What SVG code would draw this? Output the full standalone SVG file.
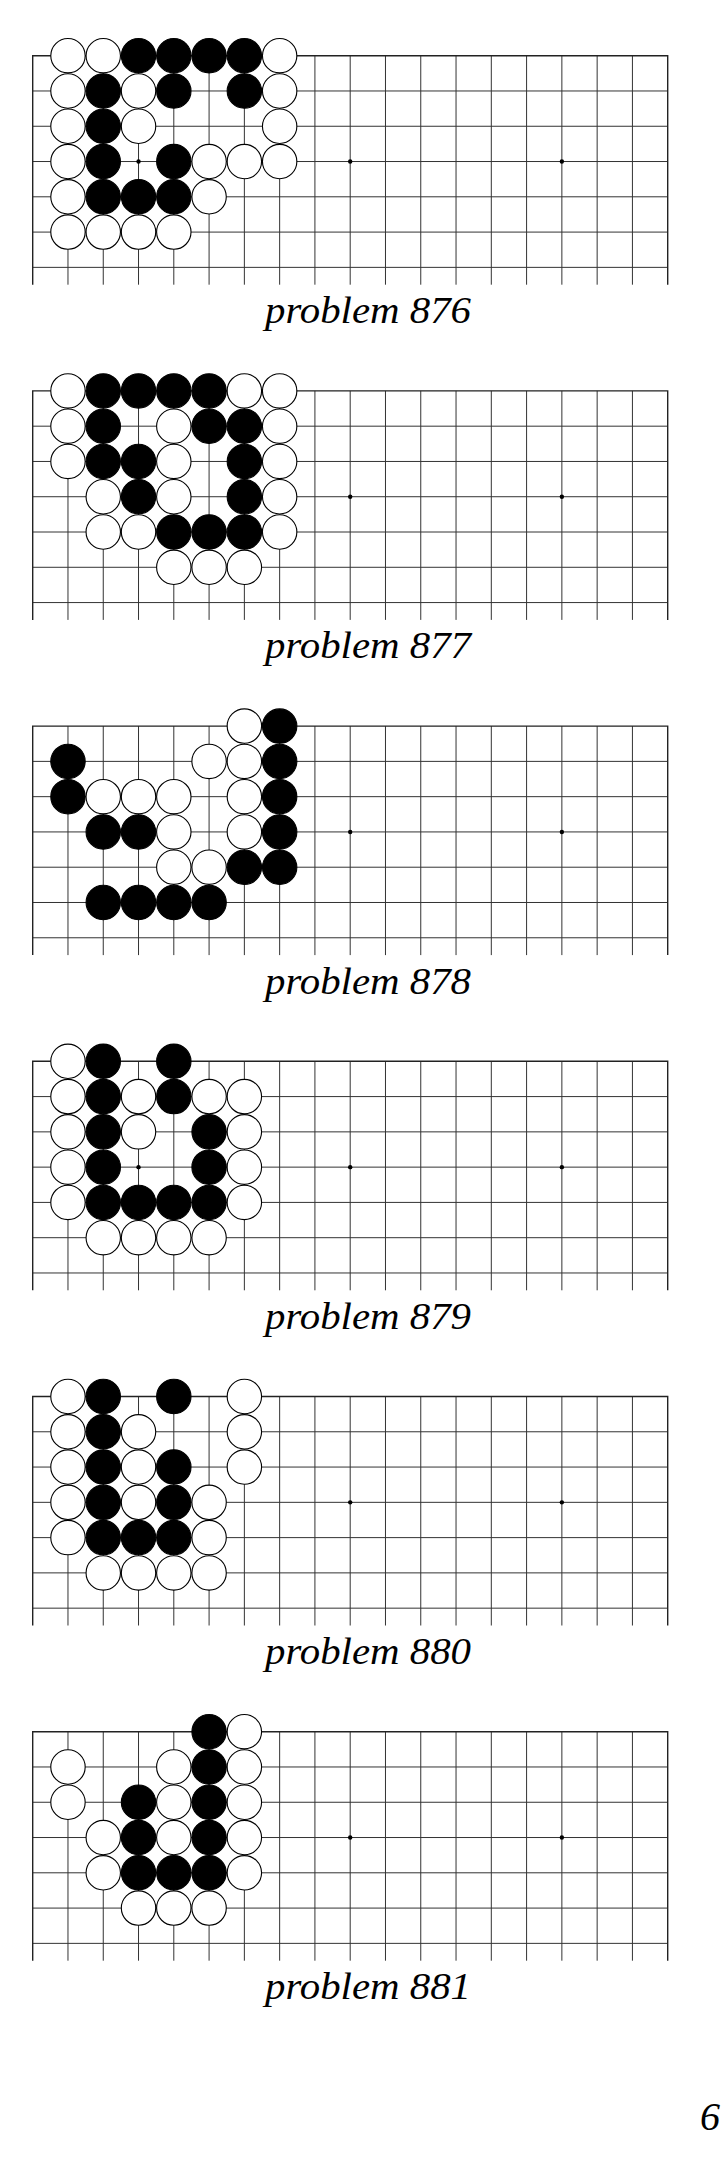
<svg xmlns="http://www.w3.org/2000/svg" width="724" height="2181" viewBox="0 0 724 2181">
<style>
.ln{fill:none;stroke:#333;stroke-width:1}
.ed{fill:none;stroke:#222;stroke-width:1.4}
.w{fill:#fff;stroke:#000;stroke-width:1.1}
.b{fill:#000;stroke:#000;stroke-width:1.1}
.hs{fill:#000}
.lbl{font-family:"Liberation Serif","Times New Roman",serif;font-style:italic;font-size:37px;fill:#000}
.pg{font-family:"Liberation Serif","Times New Roman",serif;font-style:italic;font-size:40px;fill:#000}
</style>
<defs>
<g id="grid">
<path class="ln" d="M35.28 0V229M70.56 0V229M105.83 0V229M141.11 0V229M176.39 0V229M211.67 0V229M246.95 0V229M282.22 0V229M317.5 0V229M352.78 0V229M388.06 0V229M423.34 0V229M458.61 0V229M493.89 0V229M529.17 0V229M564.45 0V229M599.73 0V229M0 35.28H635M0 70.56H635M0 105.83H635M0 141.11H635M0 176.39H635M0 211.67H635"/>
<path class="ed" d="M0 229V0H635V229"/>
<circle class="hs" cx="105.83" cy="105.83" r="2.2"/>
<circle class="hs" cx="317.5" cy="105.83" r="2.2"/>
<circle class="hs" cx="529.17" cy="105.83" r="2.2"/>
</g>
<circle id="W" class="w" r="17.2"/>
<circle id="B" class="b" r="17.2"/>
</defs>
<rect width="724" height="2181" fill="#fff"/>

<g id="board876" transform="translate(32.7,55.7)">
<use href="#grid"/>
<circle class="w" r="17.2" cx="35.28" cy="0"/><circle class="w" r="17.2" cx="70.56" cy="0"/><circle class="b" r="17.2" cx="105.83" cy="0"/><circle class="b" r="17.2" cx="141.11" cy="0"/><circle class="b" r="17.2" cx="176.39" cy="0"/><circle class="b" r="17.2" cx="211.67" cy="0"/><circle class="w" r="17.2" cx="246.95" cy="0"/>
<circle class="w" r="17.2" cx="35.28" cy="35.28"/><circle class="b" r="17.2" cx="70.56" cy="35.28"/><circle class="w" r="17.2" cx="105.83" cy="35.28"/><circle class="b" r="17.2" cx="141.11" cy="35.28"/><circle class="b" r="17.2" cx="211.67" cy="35.28"/><circle class="w" r="17.2" cx="246.95" cy="35.28"/>
<circle class="w" r="17.2" cx="35.28" cy="70.56"/><circle class="b" r="17.2" cx="70.56" cy="70.56"/><circle class="w" r="17.2" cx="105.83" cy="70.56"/><circle class="w" r="17.2" cx="246.95" cy="70.56"/>
<circle class="w" r="17.2" cx="35.28" cy="105.83"/><circle class="b" r="17.2" cx="70.56" cy="105.83"/><circle class="b" r="17.2" cx="141.11" cy="105.83"/><circle class="w" r="17.2" cx="176.39" cy="105.83"/><circle class="w" r="17.2" cx="211.67" cy="105.83"/><circle class="w" r="17.2" cx="246.95" cy="105.83"/>
<circle class="w" r="17.2" cx="35.28" cy="141.11"/><circle class="b" r="17.2" cx="70.56" cy="141.11"/><circle class="b" r="17.2" cx="105.83" cy="141.11"/><circle class="b" r="17.2" cx="141.11" cy="141.11"/><circle class="w" r="17.2" cx="176.39" cy="141.11"/>
<circle class="w" r="17.2" cx="35.28" cy="176.39"/><circle class="w" r="17.2" cx="70.56" cy="176.39"/><circle class="w" r="17.2" cx="105.83" cy="176.39"/><circle class="w" r="17.2" cx="141.11" cy="176.39"/>
<text class="lbl" x="232.3" y="267.6" textLength="206" lengthAdjust="spacingAndGlyphs">problem 876</text>
</g>

<g id="board877" transform="translate(32.7,390.9)">
<use href="#grid"/>
<circle class="w" r="17.2" cx="35.28" cy="0"/><circle class="b" r="17.2" cx="70.56" cy="0"/><circle class="b" r="17.2" cx="105.83" cy="0"/><circle class="b" r="17.2" cx="141.11" cy="0"/><circle class="b" r="17.2" cx="176.39" cy="0"/><circle class="w" r="17.2" cx="211.67" cy="0"/><circle class="w" r="17.2" cx="246.95" cy="0"/>
<circle class="w" r="17.2" cx="35.28" cy="35.28"/><circle class="b" r="17.2" cx="70.56" cy="35.28"/><circle class="w" r="17.2" cx="141.11" cy="35.28"/><circle class="b" r="17.2" cx="176.39" cy="35.28"/><circle class="b" r="17.2" cx="211.67" cy="35.28"/><circle class="w" r="17.2" cx="246.95" cy="35.28"/>
<circle class="w" r="17.2" cx="35.28" cy="70.56"/><circle class="b" r="17.2" cx="70.56" cy="70.56"/><circle class="b" r="17.2" cx="105.83" cy="70.56"/><circle class="w" r="17.2" cx="141.11" cy="70.56"/><circle class="b" r="17.2" cx="211.67" cy="70.56"/><circle class="w" r="17.2" cx="246.95" cy="70.56"/>
<circle class="w" r="17.2" cx="70.56" cy="105.83"/><circle class="b" r="17.2" cx="105.83" cy="105.83"/><circle class="w" r="17.2" cx="141.11" cy="105.83"/><circle class="b" r="17.2" cx="211.67" cy="105.83"/><circle class="w" r="17.2" cx="246.95" cy="105.83"/>
<circle class="w" r="17.2" cx="70.56" cy="141.11"/><circle class="w" r="17.2" cx="105.83" cy="141.11"/><circle class="b" r="17.2" cx="141.11" cy="141.11"/><circle class="b" r="17.2" cx="176.39" cy="141.11"/><circle class="b" r="17.2" cx="211.67" cy="141.11"/><circle class="w" r="17.2" cx="246.95" cy="141.11"/>
<circle class="w" r="17.2" cx="141.11" cy="176.39"/><circle class="w" r="17.2" cx="176.39" cy="176.39"/><circle class="w" r="17.2" cx="211.67" cy="176.39"/>
<text class="lbl" x="232.3" y="267.6" textLength="206" lengthAdjust="spacingAndGlyphs">problem 877</text>
</g>

<g id="board878" transform="translate(32.7,726.1)">
<use href="#grid"/>
<circle class="w" r="17.2" cx="211.67" cy="0"/><circle class="b" r="17.2" cx="246.95" cy="0"/>
<circle class="b" r="17.2" cx="35.28" cy="35.28"/><circle class="w" r="17.2" cx="176.39" cy="35.28"/><circle class="w" r="17.2" cx="211.67" cy="35.28"/><circle class="b" r="17.2" cx="246.95" cy="35.28"/>
<circle class="b" r="17.2" cx="35.28" cy="70.56"/><circle class="w" r="17.2" cx="70.56" cy="70.56"/><circle class="w" r="17.2" cx="105.83" cy="70.56"/><circle class="w" r="17.2" cx="141.11" cy="70.56"/><circle class="w" r="17.2" cx="211.67" cy="70.56"/><circle class="b" r="17.2" cx="246.95" cy="70.56"/>
<circle class="b" r="17.2" cx="70.56" cy="105.83"/><circle class="b" r="17.2" cx="105.83" cy="105.83"/><circle class="w" r="17.2" cx="141.11" cy="105.83"/><circle class="w" r="17.2" cx="211.67" cy="105.83"/><circle class="b" r="17.2" cx="246.95" cy="105.83"/>
<circle class="w" r="17.2" cx="141.11" cy="141.11"/><circle class="w" r="17.2" cx="176.39" cy="141.11"/><circle class="b" r="17.2" cx="211.67" cy="141.11"/><circle class="b" r="17.2" cx="246.95" cy="141.11"/>
<circle class="b" r="17.2" cx="70.56" cy="176.39"/><circle class="b" r="17.2" cx="105.83" cy="176.39"/><circle class="b" r="17.2" cx="141.11" cy="176.39"/><circle class="b" r="17.2" cx="176.39" cy="176.39"/>
<text class="lbl" x="232.3" y="267.6" textLength="206" lengthAdjust="spacingAndGlyphs">problem 878</text>
</g>

<g id="board879" transform="translate(32.7,1061.3)">
<use href="#grid"/>
<circle class="w" r="17.2" cx="35.28" cy="0"/><circle class="b" r="17.2" cx="70.56" cy="0"/><circle class="b" r="17.2" cx="141.11" cy="0"/>
<circle class="w" r="17.2" cx="35.28" cy="35.28"/><circle class="b" r="17.2" cx="70.56" cy="35.28"/><circle class="w" r="17.2" cx="105.83" cy="35.28"/><circle class="b" r="17.2" cx="141.11" cy="35.28"/><circle class="w" r="17.2" cx="176.39" cy="35.28"/><circle class="w" r="17.2" cx="211.67" cy="35.28"/>
<circle class="w" r="17.2" cx="35.28" cy="70.56"/><circle class="b" r="17.2" cx="70.56" cy="70.56"/><circle class="w" r="17.2" cx="105.83" cy="70.56"/><circle class="b" r="17.2" cx="176.39" cy="70.56"/><circle class="w" r="17.2" cx="211.67" cy="70.56"/>
<circle class="w" r="17.2" cx="35.28" cy="105.83"/><circle class="b" r="17.2" cx="70.56" cy="105.83"/><circle class="b" r="17.2" cx="176.39" cy="105.83"/><circle class="w" r="17.2" cx="211.67" cy="105.83"/>
<circle class="w" r="17.2" cx="35.28" cy="141.11"/><circle class="b" r="17.2" cx="70.56" cy="141.11"/><circle class="b" r="17.2" cx="105.83" cy="141.11"/><circle class="b" r="17.2" cx="141.11" cy="141.11"/><circle class="b" r="17.2" cx="176.39" cy="141.11"/><circle class="w" r="17.2" cx="211.67" cy="141.11"/>
<circle class="w" r="17.2" cx="70.56" cy="176.39"/><circle class="w" r="17.2" cx="105.83" cy="176.39"/><circle class="w" r="17.2" cx="141.11" cy="176.39"/><circle class="w" r="17.2" cx="176.39" cy="176.39"/>
<text class="lbl" x="232.3" y="267.6" textLength="206" lengthAdjust="spacingAndGlyphs">problem 879</text>
</g>

<g id="board880" transform="translate(32.7,1396.5)">
<use href="#grid"/>
<circle class="w" r="17.2" cx="35.28" cy="0"/><circle class="b" r="17.2" cx="70.56" cy="0"/><circle class="b" r="17.2" cx="141.11" cy="0"/><circle class="w" r="17.2" cx="211.67" cy="0"/>
<circle class="w" r="17.2" cx="35.28" cy="35.28"/><circle class="b" r="17.2" cx="70.56" cy="35.28"/><circle class="w" r="17.2" cx="105.83" cy="35.28"/><circle class="w" r="17.2" cx="211.67" cy="35.28"/>
<circle class="w" r="17.2" cx="35.28" cy="70.56"/><circle class="b" r="17.2" cx="70.56" cy="70.56"/><circle class="w" r="17.2" cx="105.83" cy="70.56"/><circle class="b" r="17.2" cx="141.11" cy="70.56"/><circle class="w" r="17.2" cx="211.67" cy="70.56"/>
<circle class="w" r="17.2" cx="35.28" cy="105.83"/><circle class="b" r="17.2" cx="70.56" cy="105.83"/><circle class="w" r="17.2" cx="105.83" cy="105.83"/><circle class="b" r="17.2" cx="141.11" cy="105.83"/><circle class="w" r="17.2" cx="176.39" cy="105.83"/>
<circle class="w" r="17.2" cx="35.28" cy="141.11"/><circle class="b" r="17.2" cx="70.56" cy="141.11"/><circle class="b" r="17.2" cx="105.83" cy="141.11"/><circle class="b" r="17.2" cx="141.11" cy="141.11"/><circle class="w" r="17.2" cx="176.39" cy="141.11"/>
<circle class="w" r="17.2" cx="70.56" cy="176.39"/><circle class="w" r="17.2" cx="105.83" cy="176.39"/><circle class="w" r="17.2" cx="141.11" cy="176.39"/><circle class="w" r="17.2" cx="176.39" cy="176.39"/>
<text class="lbl" x="232.3" y="267.6" textLength="206" lengthAdjust="spacingAndGlyphs">problem 880</text>
</g>

<g id="board881" transform="translate(32.7,1731.7)">
<use href="#grid"/>
<circle class="b" r="17.2" cx="176.39" cy="0"/><circle class="w" r="17.2" cx="211.67" cy="0"/>
<circle class="w" r="17.2" cx="35.28" cy="35.28"/><circle class="w" r="17.2" cx="141.11" cy="35.28"/><circle class="b" r="17.2" cx="176.39" cy="35.28"/><circle class="w" r="17.2" cx="211.67" cy="35.28"/>
<circle class="w" r="17.2" cx="35.28" cy="70.56"/><circle class="b" r="17.2" cx="105.83" cy="70.56"/><circle class="w" r="17.2" cx="141.11" cy="70.56"/><circle class="b" r="17.2" cx="176.39" cy="70.56"/><circle class="w" r="17.2" cx="211.67" cy="70.56"/>
<circle class="w" r="17.2" cx="70.56" cy="105.83"/><circle class="b" r="17.2" cx="105.83" cy="105.83"/><circle class="w" r="17.2" cx="141.11" cy="105.83"/><circle class="b" r="17.2" cx="176.39" cy="105.83"/><circle class="w" r="17.2" cx="211.67" cy="105.83"/>
<circle class="w" r="17.2" cx="70.56" cy="141.11"/><circle class="b" r="17.2" cx="105.83" cy="141.11"/><circle class="b" r="17.2" cx="141.11" cy="141.11"/><circle class="b" r="17.2" cx="176.39" cy="141.11"/><circle class="w" r="17.2" cx="211.67" cy="141.11"/>
<circle class="w" r="17.2" cx="105.83" cy="176.39"/><circle class="w" r="17.2" cx="141.11" cy="176.39"/><circle class="w" r="17.2" cx="176.39" cy="176.39"/>
<text class="lbl" x="232.3" y="267.6" textLength="206" lengthAdjust="spacingAndGlyphs">problem 881</text>
</g>

<g id="page-number">
<text class="pg" x="700" y="2130">6</text>
</g>
</svg>
